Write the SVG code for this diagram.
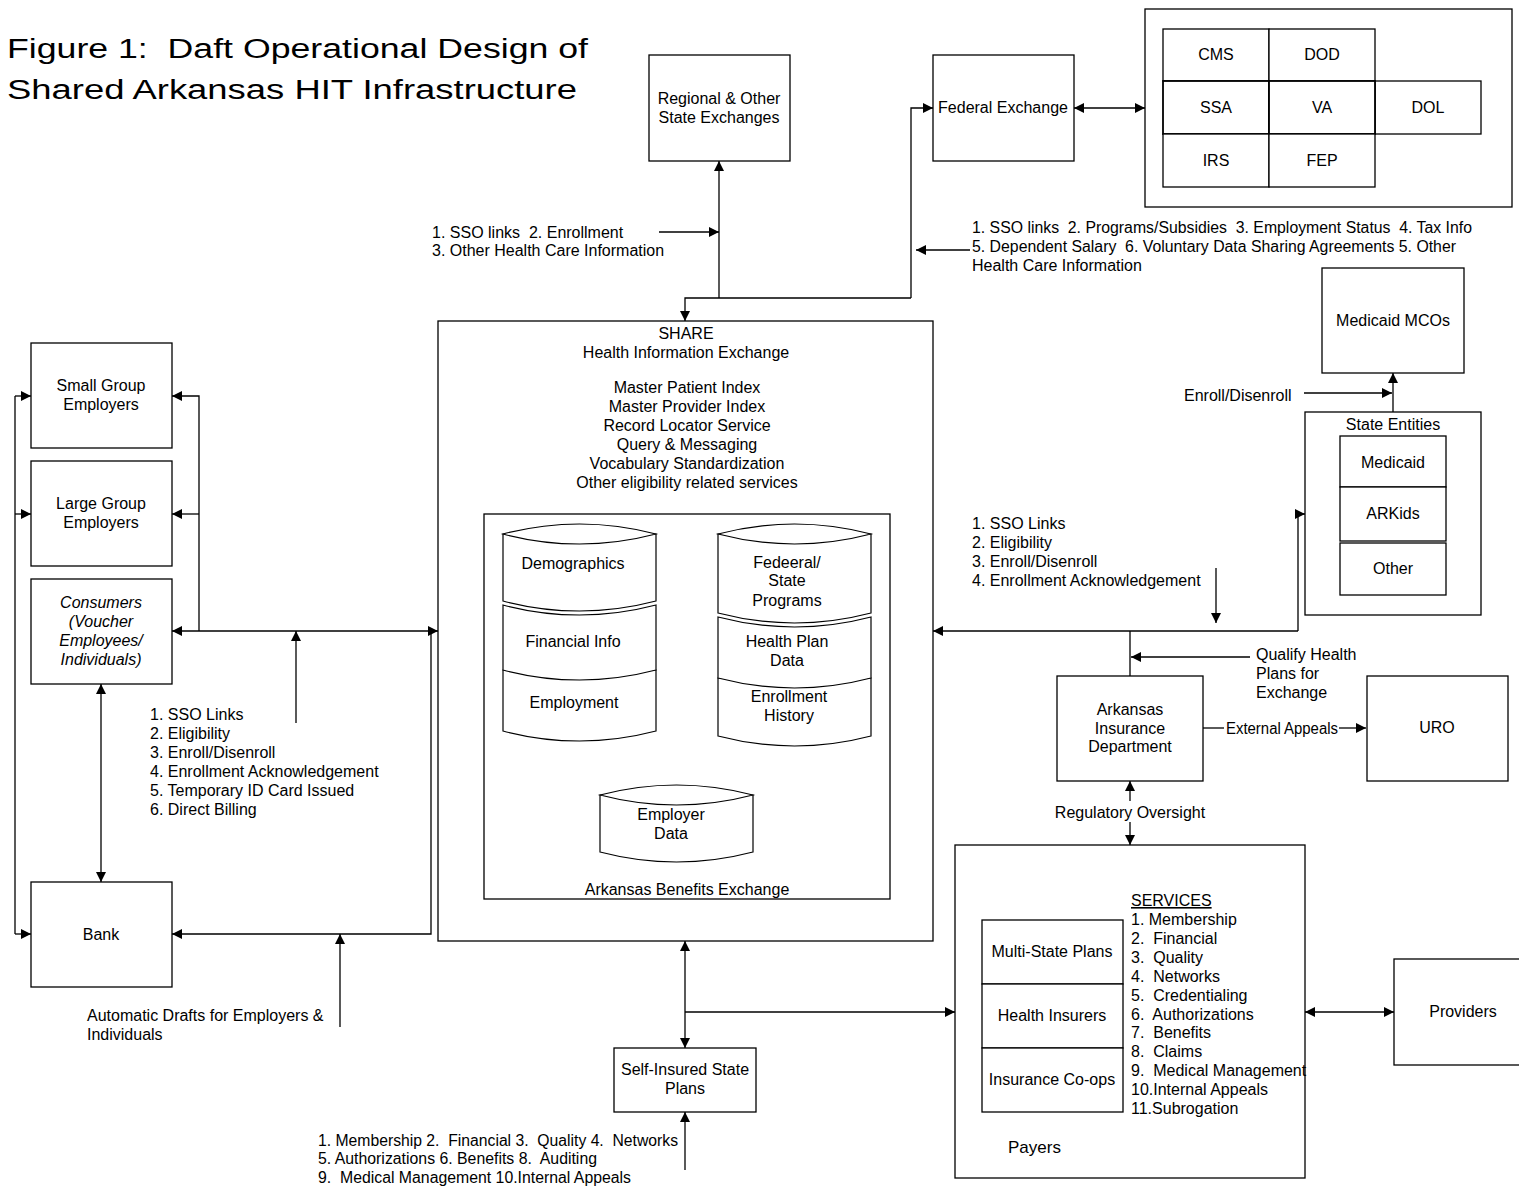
<svg xmlns="http://www.w3.org/2000/svg" width="1519" height="1186" viewBox="0 0 1519 1186">
<style>
text{font-family:"Liberation Sans",Arial,sans-serif;font-size:16px;fill:#000}
.m{text-anchor:middle}
.it{font-style:italic}
.box{fill:#fff;stroke:#000;stroke-width:1.3}
.cyl{fill:#fff;stroke:#000;stroke-width:1.2}
.c{fill:none;stroke:#000;stroke-width:1.3}
.title{font-size:27px}
</style>
<defs>
<marker id="ah" viewBox="0 0 10 10" refX="10" refY="5" markerWidth="11" markerHeight="10" markerUnits="userSpaceOnUse" orient="auto-start-reverse"><path d="M0,0 L10,5 L0,10 z" fill="#000"/></marker>
</defs>
<rect width="1519" height="1186" fill="#fff"/>
<g id="title">
<text class="title" x="7" y="58" textLength="581" lengthAdjust="spacingAndGlyphs" xml:space="preserve">Figure 1:  Daft Operational Design of</text>
<text class="title" x="7" y="99" textLength="570" lengthAdjust="spacingAndGlyphs">Shared Arkansas HIT Infrastructure</text>
</g>
<g id="regional"><rect class="box" x="649" y="55" width="141" height="106"/><text class="m" x="719" y="104">Regional &amp; Other</text><text class="m" x="719" y="123">State Exchanges</text></g>
<g id="federal"><rect class="box" x="933" y="55" width="141" height="106"/><text class="m" x="1003" y="113">Federal Exchange</text></g>
<g id="agencies">
<rect class="box" x="1145" y="9" width="367" height="198"/>
<rect class="box" x="1163" y="29" width="106" height="52"/><text class="m" x="1216" y="60">CMS</text>
<rect class="box" x="1269" y="29" width="106" height="52"/><text class="m" x="1322" y="60">DOD</text>
<rect class="box" x="1375" y="81" width="106" height="53"/><text class="m" x="1428" y="113">DOL</text>
<rect class="box" x="1163" y="81" width="106" height="53" style="stroke-width:1.8"/><text class="m" x="1216" y="113">SSA</text>
<rect class="box" x="1269" y="81" width="106" height="53" style="stroke-width:1.8"/><text class="m" x="1322" y="113">VA</text>
<rect class="box" x="1163" y="134" width="106" height="53"/><text class="m" x="1216" y="166">IRS</text>
<rect class="box" x="1269" y="134" width="106" height="53"/><text class="m" x="1322" y="166">FEP</text>
</g>
<g id="share">
<rect class="box" x="438" y="321" width="495" height="620"/>
<text class="m" x="686" y="339">SHARE</text>
<text class="m" x="686" y="358">Health Information Exchange</text>
<text class="m" x="687" y="393">Master Patient Index</text>
<text class="m" x="687" y="412">Master Provider Index</text>
<text class="m" x="687" y="431">Record Locator Service</text>
<text class="m" x="687" y="450">Query &amp; Messaging</text>
<text class="m" x="687" y="469">Vocabulary Standardization</text>
<text class="m" x="687" y="488">Other eligibility related services</text>
</g>
<g id="abe">
<rect class="box" x="484" y="514" width="406" height="385"/>
<text class="m" x="687" y="895">Arkansas Benefits Exchange</text>
</g>
<g id="db-left">
<path class="cyl" d="M503 670 L503 731 Q579.5 751 656 731 L656 670 Z"/>
<path class="cyl" d="M503 605 L503 670 Q579.5 690 656 670 L656 605 Q579.5 625 503 605 Z"/>
<path class="cyl" d="M503 534 L503 601 Q579.5 621 656 601 L656 534 Z"/>
<path class="cyl" d="M503 534 Q579.5 514 656 534 Q579.5 554 503 534 Z"/>
<text class="m" x="573" y="569">Demographics</text>
<text class="m" x="573" y="647">Financial Info</text>
<text class="m" x="574" y="708">Employment</text>
</g>
<g id="db-right">
<path class="cyl" d="M718 678 L718 736 Q794.5 756 871 736 L871 678 Z"/>
<path class="cyl" d="M718 617 L718 678 Q794.5 698 871 678 L871 617 Q794.5 637 718 617 Z"/>
<path class="cyl" d="M718 534 L718 613 Q794.5 633 871 613 L871 534 Z"/>
<path class="cyl" d="M718 534 Q794.5 514 871 534 Q794.5 554 718 534 Z"/>
<text class="m" x="787" y="568">Fedeeral/</text>
<text class="m" x="787" y="586">State</text>
<text class="m" x="787" y="606">Programs</text>
<text class="m" x="787" y="647">Health Plan</text>
<text class="m" x="787" y="666">Data</text>
<text class="m" x="789" y="702">Enrollment</text>
<text class="m" x="789" y="721">History</text>
</g>
<g id="db-employer">
<path class="cyl" d="M600 795 L600 852 Q676.5 872 753 852 L753 795 Z"/>
<path class="cyl" d="M600 795 Q676.5 775 753 795 Q676.5 815 600 795 Z"/>
<text class="m" x="671" y="820">Employer</text>
<text class="m" x="671" y="839">Data</text>
</g>
<g id="small"><rect class="box" x="31" y="343" width="141" height="105"/><text class="m" x="101" y="391">Small Group</text><text class="m" x="101" y="410">Employers</text></g>
<g id="large"><rect class="box" x="31" y="461" width="141" height="105"/><text class="m" x="101" y="509">Large Group</text><text class="m" x="101" y="528">Employers</text></g>
<g id="consumers"><rect class="box" x="31" y="579" width="141" height="105"/>
<text class="m it" x="101" y="608">Consumers</text><text class="m it" x="101" y="627">(Voucher</text><text class="m it" x="101" y="646">Employees/</text><text class="m it" x="101" y="665">Individuals)</text></g>
<g id="bank"><rect class="box" x="31" y="882" width="141" height="105"/><text class="m" x="101" y="940">Bank</text></g>
<g id="mcos"><rect class="box" x="1322" y="268" width="142" height="105"/><text class="m" x="1393" y="326">Medicaid MCOs</text></g>
<g id="state-entities">
<rect class="box" x="1305" y="412" width="176" height="203"/>
<text class="m" x="1393" y="430">State Entities</text>
<rect class="box" x="1340" y="436" width="106" height="51"/><text class="m" x="1393" y="468">Medicaid</text>
<rect class="box" x="1340" y="487" width="106" height="54"/><text class="m" x="1393" y="519">ARKids</text>
<rect class="box" x="1340" y="543" width="106" height="52"/><text class="m" x="1393" y="574">Other</text>
</g>
<g id="aid"><rect class="box" x="1057" y="676" width="146" height="105"/><text class="m" x="1130" y="715">Arkansas</text><text class="m" x="1130" y="734">Insurance</text><text class="m" x="1130" y="752">Department</text></g>
<g id="uro"><rect class="box" x="1367" y="676" width="141" height="105"/><text class="m" x="1437" y="733">URO</text></g>
<g id="payers">
<rect class="box" x="955" y="845" width="350" height="333"/>
<rect class="box" x="982" y="920" width="141" height="64"/><text class="m" x="1052" y="957">Multi-State Plans</text>
<rect class="box" x="982" y="984" width="141" height="64"/><text class="m" x="1052" y="1021">Health Insurers</text>
<rect class="box" x="982" y="1048" width="141" height="64"/><text class="m" x="1052" y="1085">Insurance Co-ops</text>
<text x="1008" y="1153" style="font-size:17px">Payers</text>
<text x="1131" y="906" text-decoration="underline">SERVICES</text>
<text x="1131" y="925" xml:space="preserve">1. Membership</text>
<text x="1131" y="944" xml:space="preserve">2.  Financial</text>
<text x="1131" y="963" xml:space="preserve">3.  Quality</text>
<text x="1131" y="982" xml:space="preserve">4.  Networks</text>
<text x="1131" y="1001" xml:space="preserve">5.  Credentialing</text>
<text x="1131" y="1020" xml:space="preserve">6.  Authorizations</text>
<text x="1131" y="1038" xml:space="preserve">7.  Benefits</text>
<text x="1131" y="1057" xml:space="preserve">8.  Claims</text>
<text x="1131" y="1076" xml:space="preserve">9.  Medical Management</text>
<text x="1131" y="1095">10.Internal Appeals</text>
<text x="1131" y="1114">11.Subrogation</text>
</g>
<g id="providers"><rect class="box" x="1394" y="959" width="140" height="106"/><text class="m" x="1463" y="1017">Providers</text></g>
<g id="self-insured"><rect class="box" x="614" y="1048" width="142" height="64"/><text class="m" x="685" y="1075">Self-Insured State</text><text class="m" x="685" y="1094">Plans</text></g>
<g id="connectors">
<path class="c" d="M1074 108 H1145" marker-start="url(#ah)" marker-end="url(#ah)"/>
<path class="c" d="M911 298 V108 H933" marker-end="url(#ah)"/>
<path class="c" d="M911 298 H685 V321" marker-end="url(#ah)"/>
<path class="c" d="M719 298 V161" marker-end="url(#ah)"/>
<path class="c" d="M659 232 H719" marker-end="url(#ah)"/>
<path class="c" d="M970 250 H916" marker-end="url(#ah)"/>
<path class="c" d="M15 396 V934"/>
<path class="c" d="M15 396 H31" marker-end="url(#ah)"/>
<path class="c" d="M15 514 H31" marker-end="url(#ah)"/>
<path class="c" d="M15 934 H31" marker-end="url(#ah)"/>
<path class="c" d="M199 631 V396 H172" marker-end="url(#ah)"/>
<path class="c" d="M199 514 H172" marker-end="url(#ah)"/>
<path class="c" d="M172 631 H438" marker-start="url(#ah)" marker-end="url(#ah)"/>
<path class="c" d="M296 723 V631" marker-end="url(#ah)"/>
<path class="c" d="M431 631 V934 H172" marker-end="url(#ah)"/>
<path class="c" d="M340 1027 V934" marker-end="url(#ah)"/>
<path class="c" d="M101 684 V882" marker-start="url(#ah)" marker-end="url(#ah)"/>
<path class="c" d="M1298 631 H933" marker-end="url(#ah)"/>
<path class="c" d="M1298 631 V514 H1305" marker-end="url(#ah)"/>
<path class="c" d="M1216 568 V623" marker-end="url(#ah)"/>
<path class="c" d="M1130 676 V631"/>
<path class="c" d="M1250 657 H1131" marker-end="url(#ah)"/>
<path class="c" d="M1203 728 H1224"/>
<path class="c" d="M1339 728 H1366" marker-end="url(#ah)"/>
<path class="c" d="M1130 801 V781" marker-end="url(#ah)"/>
<path class="c" d="M1130 822 V845" marker-end="url(#ah)"/>
<path class="c" d="M1393 412 V373" marker-end="url(#ah)"/>
<path class="c" d="M1304 393 H1392" marker-end="url(#ah)"/>
<path class="c" d="M685 941 V1048" marker-start="url(#ah)" marker-end="url(#ah)"/>
<path class="c" d="M685 1012 H955" marker-end="url(#ah)"/>
<path class="c" d="M1305 1012 H1394" marker-start="url(#ah)" marker-end="url(#ah)"/>
<path class="c" d="M685 1170 V1112" marker-end="url(#ah)"/>
</g>
<g id="labels">
<text x="432" y="238" xml:space="preserve">1. SSO links  2. Enrollment</text>
<text x="432" y="256">3. Other Health Care Information</text>
<text x="972" y="233" xml:space="preserve" textLength="500" lengthAdjust="spacingAndGlyphs">1. SSO links  2. Programs/Subsidies  3. Employment Status  4. Tax Info</text>
<text x="972" y="252" xml:space="preserve" textLength="484" lengthAdjust="spacingAndGlyphs">5. Dependent Salary  6. Voluntary Data Sharing Agreements 5. Other</text>
<text x="972" y="271">Health Care Information</text>
<text x="150" y="720">1. SSO Links</text>
<text x="150" y="739">2. Eligibility</text>
<text x="150" y="758">3. Enroll/Disenroll</text>
<text x="150" y="777">4. Enrollment Acknowledgement</text>
<text x="150" y="796">5. Temporary ID Card Issued</text>
<text x="150" y="815">6. Direct Billing</text>
<text x="87" y="1021">Automatic Drafts for Employers &amp;</text>
<text x="87" y="1040">Individuals</text>
<text x="1184" y="401">Enroll/Disenroll</text>
<text x="972" y="529">1. SSO Links</text>
<text x="972" y="548">2. Eligibility</text>
<text x="972" y="567">3. Enroll/Disenroll</text>
<text x="972" y="586">4. Enrollment Acknowledgement</text>
<text x="1256" y="660">Qualify Health</text>
<text x="1256" y="679">Plans for</text>
<text x="1256" y="698">Exchange</text>
<text class="m" x="1282" y="734" textLength="112" lengthAdjust="spacingAndGlyphs">External Appeals</text>
<text class="m" x="1130" y="818">Regulatory Oversight</text>
<text x="318" y="1146" xml:space="preserve" textLength="360" lengthAdjust="spacingAndGlyphs">1. Membership 2.  Financial 3.  Quality 4.  Networks</text>
<text x="318" y="1164" xml:space="preserve" textLength="279" lengthAdjust="spacingAndGlyphs">5. Authorizations 6. Benefits 8.  Auditing</text>
<text x="318" y="1183" xml:space="preserve" textLength="313" lengthAdjust="spacingAndGlyphs">9.  Medical Management 10.Internal Appeals</text>
</g>
</svg>
